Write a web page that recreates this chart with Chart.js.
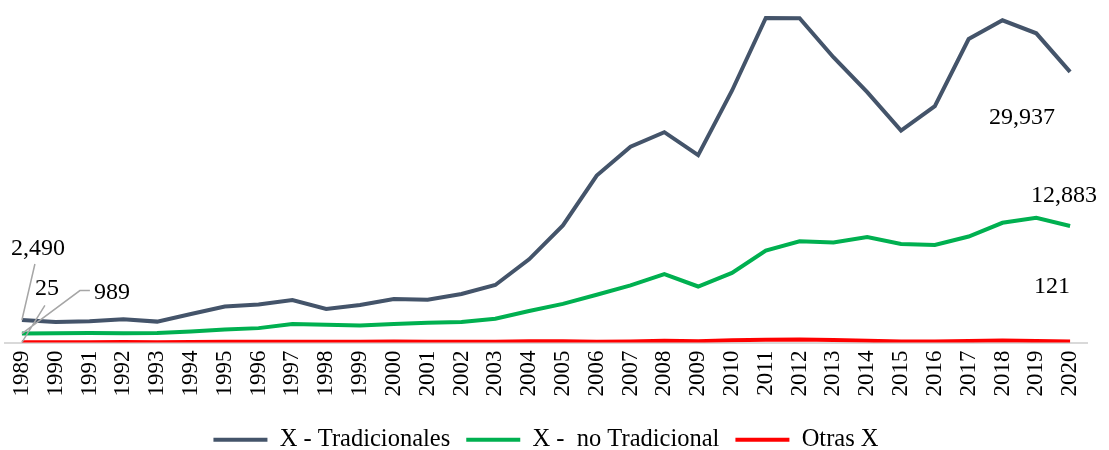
<!DOCTYPE html>
<html>
<head>
<meta charset="utf-8">
<script src="https://cdn.jsdelivr.net/npm/chart.js@4.4.1/dist/chart.umd.min.js"></script>
<style>
  html, body { margin: 0; padding: 0; background: #fff; overflow: hidden; }
  #wrap { width: 1109px; height: 462px; }
</style>
</head>
<body>
<div id="wrap"><canvas id="grafico"></canvas></div>
<script>
const anos = ["1989","1990","1991","1992","1993","1994","1995","1996","1997","1998","1999","2000","2001","2002","2003","2004","2005","2006","2007","2008","2009","2010","2011","2012","2013","2014","2015","2016","2017","2018","2019","2020"];
const tradicionales = [2490, 2259, 2359, 2562, 2310, 3155, 3984, 4214, 4705, 3712, 4142, 4804, 4730, 5369, 6356, 9199, 12950, 18461, 21666, 23266, 20720, 27850, 35896, 35869, 31553, 27686, 23432, 26137, 33566, 35638, 34200, 29937];
const noTradicional = [989, 1033, 1046, 1036, 1050, 1216, 1445, 1590, 2046, 1967, 1876, 2044, 2183, 2256, 2620, 3479, 4277, 5279, 6313, 7562, 6196, 7699, 10176, 11197, 11069, 11677, 10895, 10782, 11725, 13240, 13783, 12883];
const otras = [25, 31, 34, 47, 30, 55, 70, 95, 85, 70, 70, 108, 95, 90, 90, 130, 140, 90, 100, 190, 150, 240, 300, 340, 290, 180, 110, 100, 160, 230, 160, 121];
const nombres = ["X - Tradicionales", "X -  no Tradicional", "Otras X"];
const colores = ["#44546A", "#00B050", "#FF0000"];

const fuente = "'Liberation Serif', 'Times New Roman', serif";
const fmt = v => v.toLocaleString("en-US");

// etiquetas de inicio y fin, con lineas guia para las de 1989
const etiquetas = {
  id: "etiquetas",
  afterDatasetsDraw(chart) {
    const ctx = chart.ctx;
    const pt = (ds, i) => chart.getDatasetMeta(ds).data[i];
    const n = anos.length - 1;
    ctx.save();
    ctx.font = "24px " + fuente;
    ctx.fillStyle = "#000";
    ctx.textAlign = "center";
    ctx.textBaseline = "middle";

    // lineas guia
    ctx.strokeStyle = "#A6A6A6";
    ctx.lineWidth = 1.5;
    const p0 = pt(0, 0), p1 = pt(1, 0), p2 = pt(2, 0);
    ctx.beginPath();
    ctx.moveTo(p0.x + 13, p0.y - 56);
    ctx.lineTo(p0.x, p0.y);
    ctx.moveTo(p2.x + 23, p2.y - 37);
    ctx.lineTo(p2.x, p2.y);
    ctx.moveTo(p1.x + 68, p1.y - 43);
    ctx.lineTo(p1.x + 58, p1.y - 43);
    ctx.lineTo(p1.x, p1.y);
    ctx.stroke();

    ctx.fillText(fmt(tradicionales[0]), p0.x + 16, p0.y - 71);
    ctx.fillText(fmt(otras[0]), p2.x + 25, p2.y - 54);
    ctx.fillText(fmt(noTradicional[0]), p1.x + 90, p1.y - 41);

    const e0 = pt(0, n), e1 = pt(1, n), e2 = pt(2, n);
    ctx.fillText(fmt(tradicionales[n]), e0.x - 48, e0.y + 46);
    ctx.fillText(fmt(noTradicional[n]), e1.x - 6, e1.y - 30);
    ctx.fillText(fmt(otras[n]), e2.x - 18, e2.y - 55);
    ctx.restore();
  }
};

const series = [tradicionales, noTradicional, otras];

new Chart(document.getElementById("grafico"), {
  type: "line",
  data: {
    labels: anos,
    datasets: series.map((s, i) => ({
      label: nombres[i],
      data: s,
      borderColor: colores[i],
      backgroundColor: colores[i],
      borderWidth: 4,
      pointRadius: 0,
      tension: 0,
      order: i
    }))
  },
  options: {
    responsive: true,
    maintainAspectRatio: false,
    animation: false,
    layout: { padding: { top: 8, left: 5, right: 22, bottom: 0 } },
    plugins: {
      tooltip: { enabled: false },
      legend: {
        position: "bottom",
        labels: {
          font: { family: fuente, size: 24.5 },
          color: "#000",
          boxWidth: 54,
          boxHeight: 4,
          padding: 16,
          generateLabels(chart) {
            return Chart.defaults.plugins.legend.labels.generateLabels(chart)
              .map(l => Object.assign(l, { lineWidth: 0 }));
          }
        }
      }
    },
    scales: {
      x: {
        offset: true,
        grid: { display: false },
        border: { display: true, color: "#D9D9D9", width: 2 },
        afterFit: scale => { scale.height += 15; },
        ticks: {
          minRotation: 90,
          maxRotation: 90,
          autoSkip: false,
          padding: 0,
          color: "#000",
          font: { family: fuente, size: 23 }
        }
      },
      y: {
        display: false,
        min: 0,
        max: 37000
      }
    }
  },
  plugins: [etiquetas]
});
</script>
</body>
</html>
